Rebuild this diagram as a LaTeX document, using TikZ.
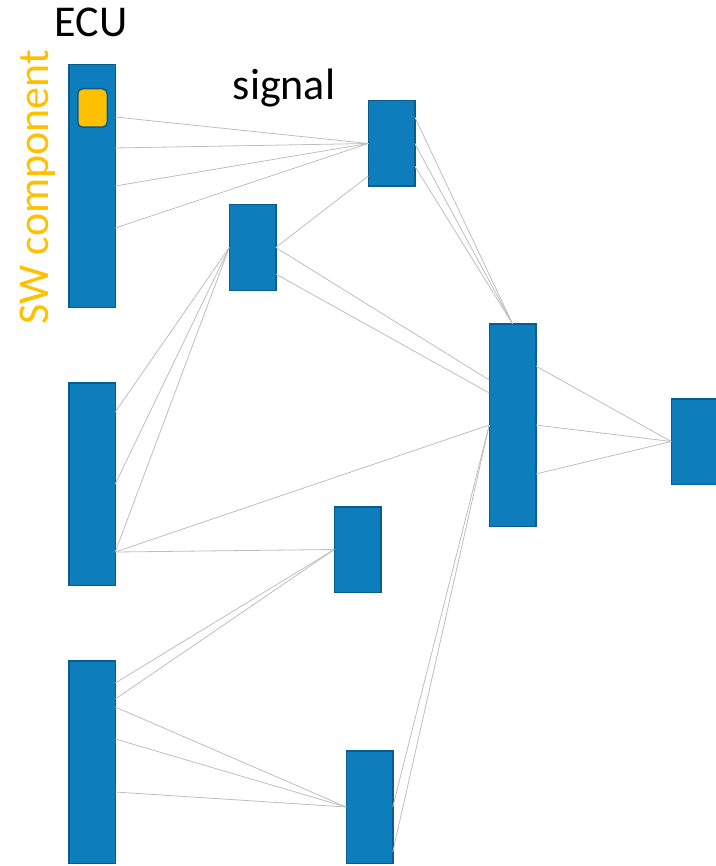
\documentclass[tikz,border=0pt]{standalone}
\usepackage{fontspec}
\setmainfont{Carlito}
\usetikzlibrary{positioning}

\definecolor{boxblue}{RGB}{13,126,187}
\definecolor{boxedge}{RGB}{8,92,142}
\definecolor{swcyellow}{RGB}{255,192,0}
\definecolor{wiregray}{RGB}{190,190,190}

\begin{document}
\begin{tikzpicture}[
            x=1pt, y=-1pt,
            block/.style = {
                draw=boxedge, fill=boxblue, line width=1.5pt,
                minimum width=46.5pt, inner sep=0pt, outer sep=0pt
            },
            ecu/.style = {block, minimum height=#1},
            sig/.style = {block, minimum height=#1},
            sig/.default = 85.5pt,
            swc/.style = {
                draw=boxedge, fill=swcyellow, line width=1.5pt,
                rounded corners=5pt, minimum width=29.5pt, minimum height=38.5pt,
                inner sep=0pt
            },
            wire/.style = {draw=wiregray, line width=0.8pt},
            label/.style = {font=\fontsize{44}{50}\selectfont, anchor=base}
            ]
            \useasboundingbox (0,0) rectangle (715,866);

            % ECUs
            \node[ecu=242.5pt] (ecuA) at (92,186) {};
            \node[ecu=202.5pt] (ecuB) at (92,484) {};
            \node[ecu=202.5pt] (ecuC) at (92,762) {};
            \node[swc] (swc) at (92.5,108) {};

            % signals
            \node[sig] (sigA) at (391.5,143.5) {};
            \node[sig] (sigB) at (252.5,247.5) {};
            \node[sig] (sigC) at (357.5,549.5) {};
            \node[sig=202.5pt] (sigD) at (512.5,425) {};
            \node[sig] (sigE) at (694.5,441.5) {};
            \node[sig=112.5pt] (sigF) at (369.5,807) {};

            % labels
            \node[label] (ecuLabel) at (91,37) {ECU};
            \node[label] (sigLabel) at (284,100) {signal};
            \node[label, rotate=90, text=swcyellow] (swcLabel) at (48,187) {SW component};

            % wires
            \foreach \dy in {69,38,0,-42}
                \draw[wire] ([yshift=\dy pt]ecuA.east) -- (sigA.west);
            \draw[wire] ([yshift=-32.5pt]sigA.west) -- (sigB.east);
            \foreach \dy in {26.5,0,-22.5}
                \draw[wire] ([yshift=\dy pt]sigA.east) -- (sigD.north);
            \draw[wire] (sigB.east) -- ([yshift=45pt]sigD.west);
            \draw[wire] ([yshift=-26.5pt]sigB.east) -- ([yshift=32pt]sigD.west);
            \foreach \dy in {72,0,-68}
                \draw[wire] ([yshift=\dy pt]ecuB.east) -- (sigB.west);
            \draw[wire] ([yshift=-68pt]ecuB.east) -- (sigD.west);
            \draw[wire] ([yshift=-68pt]ecuB.east) -- (sigC.west);
            \foreach \dy in {79,63}
                \draw[wire] ([yshift=\dy pt]ecuC.east) -- (sigC.west);
            \foreach \dy in {55,23,-30}
                \draw[wire] ([yshift=\dy pt]ecuC.east) -- (sigF.west);
            \foreach \dy in {0,-45}
                \draw[wire] ([yshift=\dy pt]sigF.east) -- (sigD.west);
            \foreach \dy in {59,0,-49}
                \draw[wire] ([yshift=\dy pt]sigD.east) -- (sigE.west);
        \end{tikzpicture}
\end{document}
